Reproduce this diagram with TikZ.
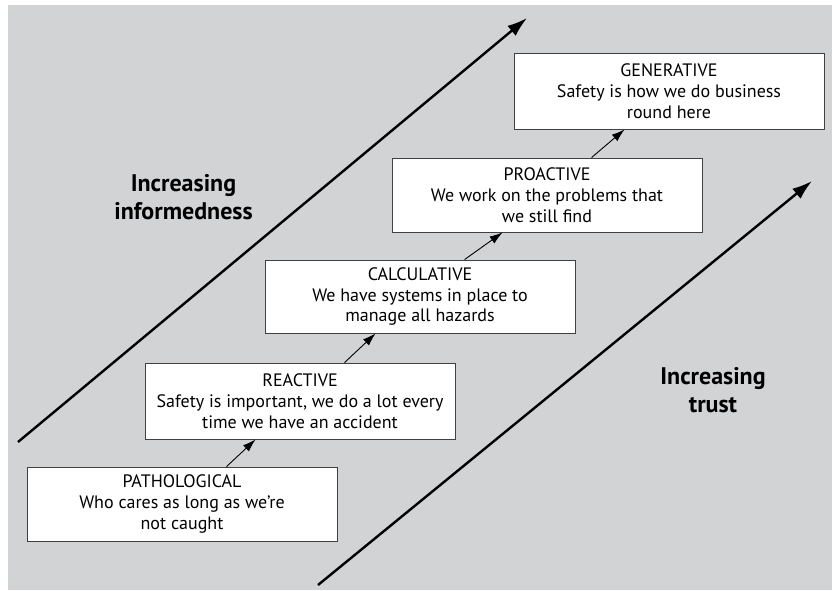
\documentclass[tikz,border=0pt]{standalone}
\usepackage{fontspec}
\setmainfont{PT Sans}
\usetikzlibrary{arrows.meta,positioning}
\definecolor{panel}{RGB}{210,211,213}
\tikzset{
  stage/.style={draw=black!75,fill=white,line width=0.9pt,align=center,inner sep=0pt,
    minimum width=310pt,font=\fontsize{18}{20.7}\selectfont},
  trend/.style={line width=2.4pt,-{Latex[length=20pt,width=13pt]}},
  climb/.style={line width=0.9pt,-{Latex[length=13pt,width=8.5pt]}},
  trendlabel/.style={align=center,font=\fontsize{24}{28}\selectfont\bfseries}
}

\begin{document}
\begin{tikzpicture}[x=1pt,y=-1pt]
\useasboundingbox (0,0) rectangle (832,590);
\fill[white] (0,0) rectangle (832,590);
\fill[panel] (8,5) rectangle (832,590);
\node[stage,minimum height=74pt] (path) at (182,504) {PATHOLOGICAL\\Who cares as long as we’re\\not caught};
\node[stage,minimum height=76pt] (react) at (300,401) {REACTIVE\\Safety is important, we do a lot every\\time we have an accident};
\node[stage,minimum height=73pt] (calc) at (420,296.5) {CALCULATIVE\\We have systems in place to\\manage all hazards};
\node[stage,minimum height=74pt] (pro) at (547,195) {PROACTIVE\\We work on the problems that\\we still find};
\node[stage,minimum height=76pt] (gen) at (669,91) {GENERATIVE\\Safety is how we do business\\round here};
\foreach \a/\b in {path/react,react/calc,calc/pro,pro/gen}
  \draw[climb] ([xshift=200pt]\a.north west) -- ([xshift=111pt]\b.south west);
\coordinate (infoS) at (18,442); \coordinate (infoE) at (527,18);
\coordinate (trustS) at (318,585); \coordinate (trustE) at (812,181);
\draw[trend] (infoS) -- (infoE);
\draw[trend] (trustS) -- (trustE);
\node[trendlabel] (info) at (183.5,197) {Increasing\\informedness};
\node[trendlabel] (trust) at (713,390) {Increasing\\trust};
\end{tikzpicture}
\end{document}
